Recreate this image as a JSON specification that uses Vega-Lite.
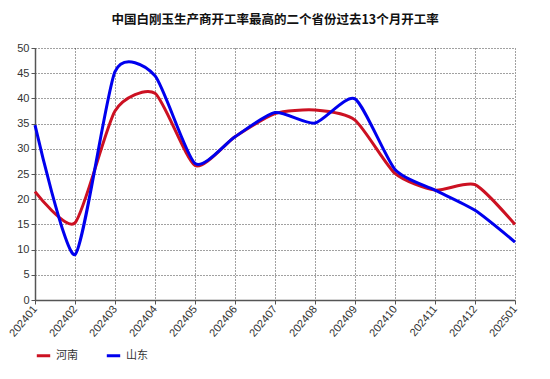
{
  "$schema": "https://vega.github.io/schema/vega-lite/v6.json",
  "width": 480,
  "height": 252,
  "autosize": "none",
  "padding": {"left": 35, "top": 48, "right": 35, "bottom": 79},
  "background": "white",
  "title": {
    "text": "中国白刚玉生产商开工率最高的二个省份过去13个月开工率",
    "font": "Noto Sans CJK SC",
    "fontSize": 12.5,
    "fontWeight": "bold",
    "color": "#111111",
    "anchor": "middle",
    "offset": 16
  },
  "config": {
    "view": {"stroke": null},
    "font": "Liberation Sans"
  },
  "data": {
    "values": [
      {"month": "202401", "province": "河南", "rate": 21.5},
      {"month": "202402", "province": "河南", "rate": 15.3},
      {"month": "202403", "province": "河南", "rate": 37.5},
      {"month": "202404", "province": "河南", "rate": 41.0},
      {"month": "202405", "province": "河南", "rate": 26.7},
      {"month": "202406", "province": "河南", "rate": 32.4},
      {"month": "202407", "province": "河南", "rate": 37.0},
      {"month": "202408", "province": "河南", "rate": 37.7},
      {"month": "202409", "province": "河南", "rate": 35.7},
      {"month": "202410", "province": "河南", "rate": 25.1},
      {"month": "202411", "province": "河南", "rate": 21.8},
      {"month": "202412", "province": "河南", "rate": 22.9},
      {"month": "202501", "province": "河南", "rate": 15.0},
      {"month": "202401", "province": "山东", "rate": 34.7},
      {"month": "202402", "province": "山东", "rate": 9.0},
      {"month": "202403", "province": "山东", "rate": 45.3},
      {"month": "202404", "province": "山东", "rate": 44.5},
      {"month": "202405", "province": "山东", "rate": 27.1},
      {"month": "202406", "province": "山东", "rate": 32.4},
      {"month": "202407", "province": "山东", "rate": 37.2},
      {"month": "202408", "province": "山东", "rate": 35.1},
      {"month": "202409", "province": "山东", "rate": 39.9},
      {"month": "202410", "province": "山东", "rate": 25.9},
      {"month": "202411", "province": "山东", "rate": 21.8},
      {"month": "202412", "province": "山东", "rate": 17.8},
      {"month": "202501", "province": "山东", "rate": 11.5}
    ]
  },
  "mark": {"type": "line", "interpolate": "cardinal", "tension": 0.35, "strokeWidth": 3},
  "encoding": {
    "x": {
      "field": "month",
      "type": "ordinal",
      "scale": {"type": "point", "padding": 0},
      "axis": {
        "title": null,
        "labelAngle": -50,
        "labelAlign": "right",
        "labelBaseline": "middle",
        "labelFontSize": 11,
        "labelColor": "#333333",
        "labelPadding": 3,
        "grid": true,
        "gridColor": "#222222",
        "gridDash": [1, 2],
        "gridOpacity": 0.85,
        "domainColor": "#555555",
        "domainWidth": 1.5,
        "tickColor": "#555555",
        "tickSize": 4
      }
    },
    "y": {
      "field": "rate",
      "type": "quantitative",
      "scale": {"domain": [0, 50], "nice": false},
      "axis": {
        "title": null,
        "values": [0, 5, 10, 15, 20, 25, 30, 35, 40, 45, 50],
        "labelFontSize": 11,
        "labelColor": "#333333",
        "labelPadding": 2,
        "grid": true,
        "gridColor": "#222222",
        "gridDash": [1, 2],
        "gridOpacity": 0.85,
        "domainColor": "#555555",
        "domainWidth": 1.5,
        "tickColor": "#555555",
        "tickSize": 4
      }
    },
    "color": {
      "field": "province",
      "type": "nominal",
      "scale": {"domain": ["河南", "山东"], "range": ["#cc1122", "#0000ee"]},
      "legend": {
        "title": null,
        "orient": "bottom",
        "direction": "horizontal",
        "symbolType": "stroke",
        "symbolStrokeWidth": 3,
        "symbolSize": 180,
        "labelFont": "Noto Sans CJK SC",
        "labelFontSize": 11,
        "labelColor": "#333333",
        "columnPadding": 22,
        "offset": 8
      }
    }
  }
}
